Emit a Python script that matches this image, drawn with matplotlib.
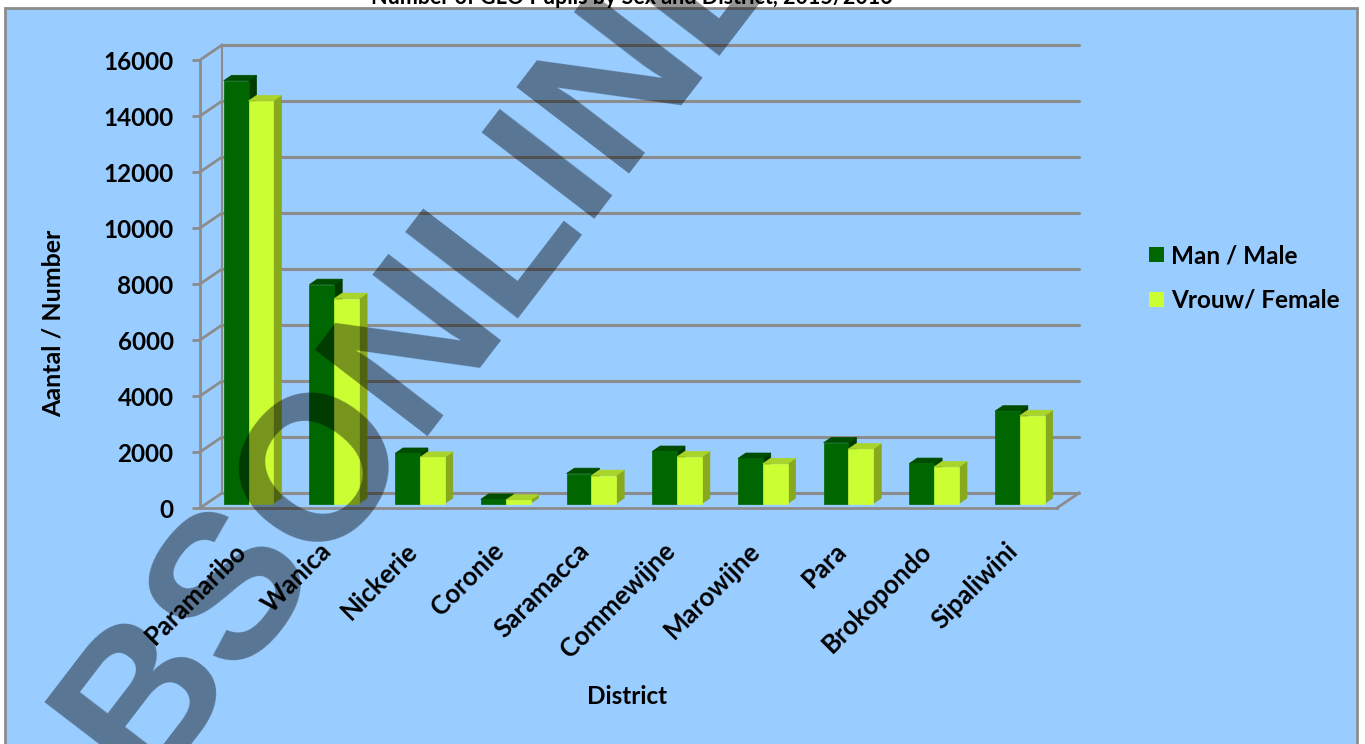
import matplotlib
matplotlib.use('Agg')
import matplotlib.pyplot as plt
from matplotlib.patches import Polygon, Rectangle, Patch
from matplotlib.transforms import ScaledTranslation

# ---------------- data ----------------
districts = ['Paramaribo', 'Wanica', 'Nickerie', 'Coronie', 'Saramacca',
             'Commewijne', 'Marowijne', 'Para', 'Brokopondo', 'Sipaliwini']
male = [15100, 7820, 1790, 150, 1070, 1860, 1610, 2170, 1430, 3300]
female = [14380, 7320, 1650, 120, 1000, 1670, 1420, 1950, 1310, 3140]
series_names = ['Man / Male', 'Vrouw/ Female']
yticks = list(range(0, 16001, 2000))
title = 'Number of GLO Pupils by Sex and District, 2015/2016'
xlabel = 'District'
ylabel = 'Aantal / Number'
watermark = 'BSONLINE'

plt.rcParams['font.family'] = ['Lato', 'DejaVu Sans']

W, H = 1365, 744
fig = plt.figure(figsize=(W / 100, H / 100), dpi=100)
fig.patch.set_facecolor('white')

grid_c = '#8c8c8c'
bg_c = '#99ccff'
male_c = ('#006600', '#004d00', '#003c00')       # front, top, side
female_c = ('#ccff33', '#a9d42a', '#88a81e')

bg = Rectangle((5 / W, -0.02), (1357 - 5) / W, (H - 8) / H + 0.02,
               transform=fig.transFigure, facecolor=bg_c,
               edgecolor=grid_c, lw=2, zorder=-1)
fig.patches.append(bg)

# front plane of the 3D box
L, R, B, T = 200, 1057, 508, 60
ax = fig.add_axes([L / W, 1 - B / H, (R - L) / W, (B - T) / H])
n = len(districts)
ax.set_xlim(-0.5, n - 0.5)
ax.set_ylim(0, yticks[-1])
ax.patch.set_visible(False)

ppx = (R - L) / n
ppy = (B - T) / yticks[-1]
ddx = 22 / ppx          # depth offset in data units
ddy = 15 / ppy

# back wall gridlines, side wall diagonals
for v in yticks:
    ax.plot([-0.5 + ddx, n - 0.5 + ddx], [v + ddy, v + ddy], color=grid_c,
            lw=2.2, clip_on=False, zorder=1, solid_capstyle='round')
    ax.plot([-0.5, -0.5 + ddx], [v, v + ddy], color=grid_c, lw=2,
            clip_on=False, zorder=1)
ax.plot([-0.5 + ddx, -0.5 + ddx], [ddy, yticks[-1] + ddy], color=grid_c,
        lw=1.5, clip_on=False, zorder=1)
ax.plot([n - 0.5, n - 0.5 + ddx], [0, ddy], color=grid_c, lw=2,
        clip_on=False, zorder=1)

# 3D bars
f0, fb = 0.3, 0.36


def bar3d(x0, x1, h, cols):
    ox, oy = f0 * ddx, f0 * ddy
    bx, by = fb * ddx, fb * ddy
    cf, ct, cs = cols
    side = [(x1 + ox, oy), (x1 + ox + bx, oy + by),
            (x1 + ox + bx, h + oy + by), (x1 + ox, h + oy)]
    top = [(x0 + ox, h + oy), (x1 + ox, h + oy),
           (x1 + ox + bx, h + oy + by), (x0 + ox + bx, h + oy + by)]
    front = [(x0 + ox, oy), (x1 + ox, oy), (x1 + ox, h + oy), (x0 + ox, h + oy)]
    for pts, c in ((side, cs), (top, ct), (front, cf)):
        ax.add_patch(Polygon(pts, closed=True, facecolor=c, edgecolor=c,
                             lw=0.5, clip_on=False, zorder=2))


for i in range(n):
    bar3d(i - 0.30, i - 0.01, male[i], male_c)
    bar3d(i - 0.01, i + 0.28, female[i], female_c)

# axes styling
for s in ('top', 'right'):
    ax.spines[s].set_visible(False)
for s in ('left', 'bottom'):
    ax.spines[s].set_color(grid_c)
    ax.spines[s].set_linewidth(2)
    ax.spines[s].set_zorder(1)

ax.set_yticks(yticks)
ax.set_yticklabels([str(v) for v in yticks], fontsize=17.5, fontweight='bold')
ax.tick_params(axis='y', direction='out', length=6, width=2, color=grid_c,
               pad=13)
ax.set_xticks(range(n))
ax.set_xticklabels(districts, fontsize=18.5, fontweight='bold', rotation=45,
                   ha='right', va='top', rotation_mode='anchor')
ax.tick_params(axis='x', length=0, pad=22)
shift = ScaledTranslation(-9 / 100, 0, fig.dpi_scale_trans)
for lab in ax.get_xticklabels():
    lab.set_transform(lab.get_transform() + shift)

fig.text(53 / W, 1 - 323 / H, ylabel, rotation=90, ha='center', va='center',
         fontsize=18, fontweight='bold')
fig.text(627 / W, 1 - 697 / H, xlabel, ha='center', va='center',
         fontsize=17.5, fontweight='bold')
fig.text(632 / W, 1 - 4 / H, title, ha='center', va='baseline',
         fontsize=15.5, fontweight='bold')

fig.legend(handles=[Patch(facecolor=male_c[0]), Patch(facecolor=female_c[0])],
           labels=series_names, loc='center left',
           bbox_to_anchor=(1127 / W, 1 - 278 / H), frameon=False,
           prop=dict(family=['Lato', 'DejaVu Sans'], weight='bold', size=17.5),
           handlelength=0.62, handleheight=0.62, handletextpad=0.3,
           labelspacing=0.9)

fig.text(467 / W, 1 - 368 / H, watermark, rotation=52.5, rotation_mode='anchor',
         ha='center', va='baseline', fontsize=148, fontweight='bold',
         family=['Liberation Sans', 'DejaVu Sans'], color='black', alpha=0.42,
         zorder=10)

fig.savefig('out.png', dpi=100, facecolor='white')
